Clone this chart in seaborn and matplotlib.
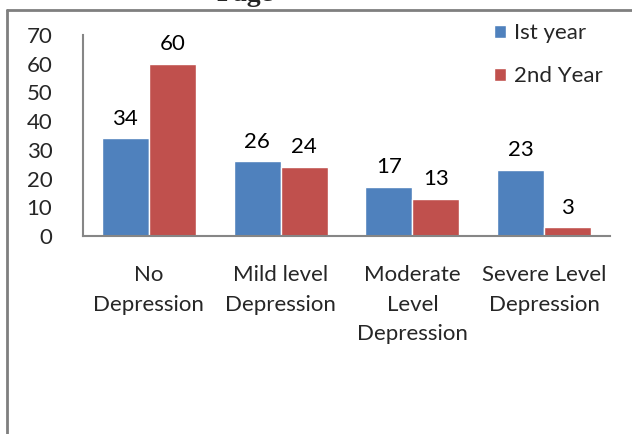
# grouped bar chart: depression level by year

import matplotlib
matplotlib.use('Agg')
import matplotlib.pyplot as plt
import seaborn as sns
import pandas as pd
from matplotlib.lines import Line2D

categories = ['No\nDepression', 'Mild level\nDepression', 'Moderate\nLevel\nDepression', 'Severe Level\nDepression']
first_year = [34, 26, 17, 23]
second_year = [60, 24, 13, 3]
series_names = ['Ist year', '2nd Year']

df = pd.DataFrame({
    'level': categories * 2,
    'count': first_year + second_year,
    'year': [series_names[0]] * 4 + [series_names[1]] * 4,
})

sns.set_style('white')
plt.rcParams['font.family'] = ['Lato', 'DejaVu Sans']

fig = plt.figure(figsize=(6.32, 4.34), dpi=100)
ax = fig.add_axes([83 / 632, 1 - 236 / 434, 527 / 632, 201 / 434])

sns.barplot(data=df, x='level', y='count', hue='year',
            palette=['#4F81BD', '#C0504D'], width=0.714, saturation=1,
            ax=ax)

for c in ax.containers:
    ax.bar_label(c, padding=7, fontsize=16, color='black')

ax.set_ylim(0, 70)
ax.set_xlim(-0.5, 3.5)
ax.set_yticks(range(0, 71, 10))
ax.set_xlabel('')
ax.set_ylabel('')
ax.tick_params(axis='y', length=0, pad=22, labelsize=16)
ax.tick_params(axis='x', length=0, pad=21, labelsize=16)
for t in ax.get_xticklabels():
    t.set_linespacing(1.6)
for s in ['top', 'right']:
    ax.spines[s].set_visible(False)
for s in ['left', 'bottom']:
    ax.spines[s].set_color('#868686')
    ax.spines[s].set_linewidth(1.5)

ax.legend(loc='upper left', bbox_to_anchor=(483 / 632, 1 - 12 / 434),
          bbox_transform=fig.transFigure, frameon=False, fontsize=16,
          handlelength=0.55, handleheight=0.55, handletextpad=0.35,
          labelspacing=1.05, borderpad=0)

# outer frame and clipped title
fig.add_artist(Line2D([7 / 632, 1], [1 - 10 / 434, 1 - 10 / 434], color='#7f7f7f', lw=2))
fig.add_artist(Line2D([7 / 632, 7 / 632], [0, 1 - 10 / 434], color='#7f7f7f', lw=2))
fig.text(245 / 632, 1 - 1 / 434, 'Page', ha='center', va='baseline',
         fontsize=20, fontweight='bold', family='Liberation Serif')

fig.savefig('out.png', dpi=100)
